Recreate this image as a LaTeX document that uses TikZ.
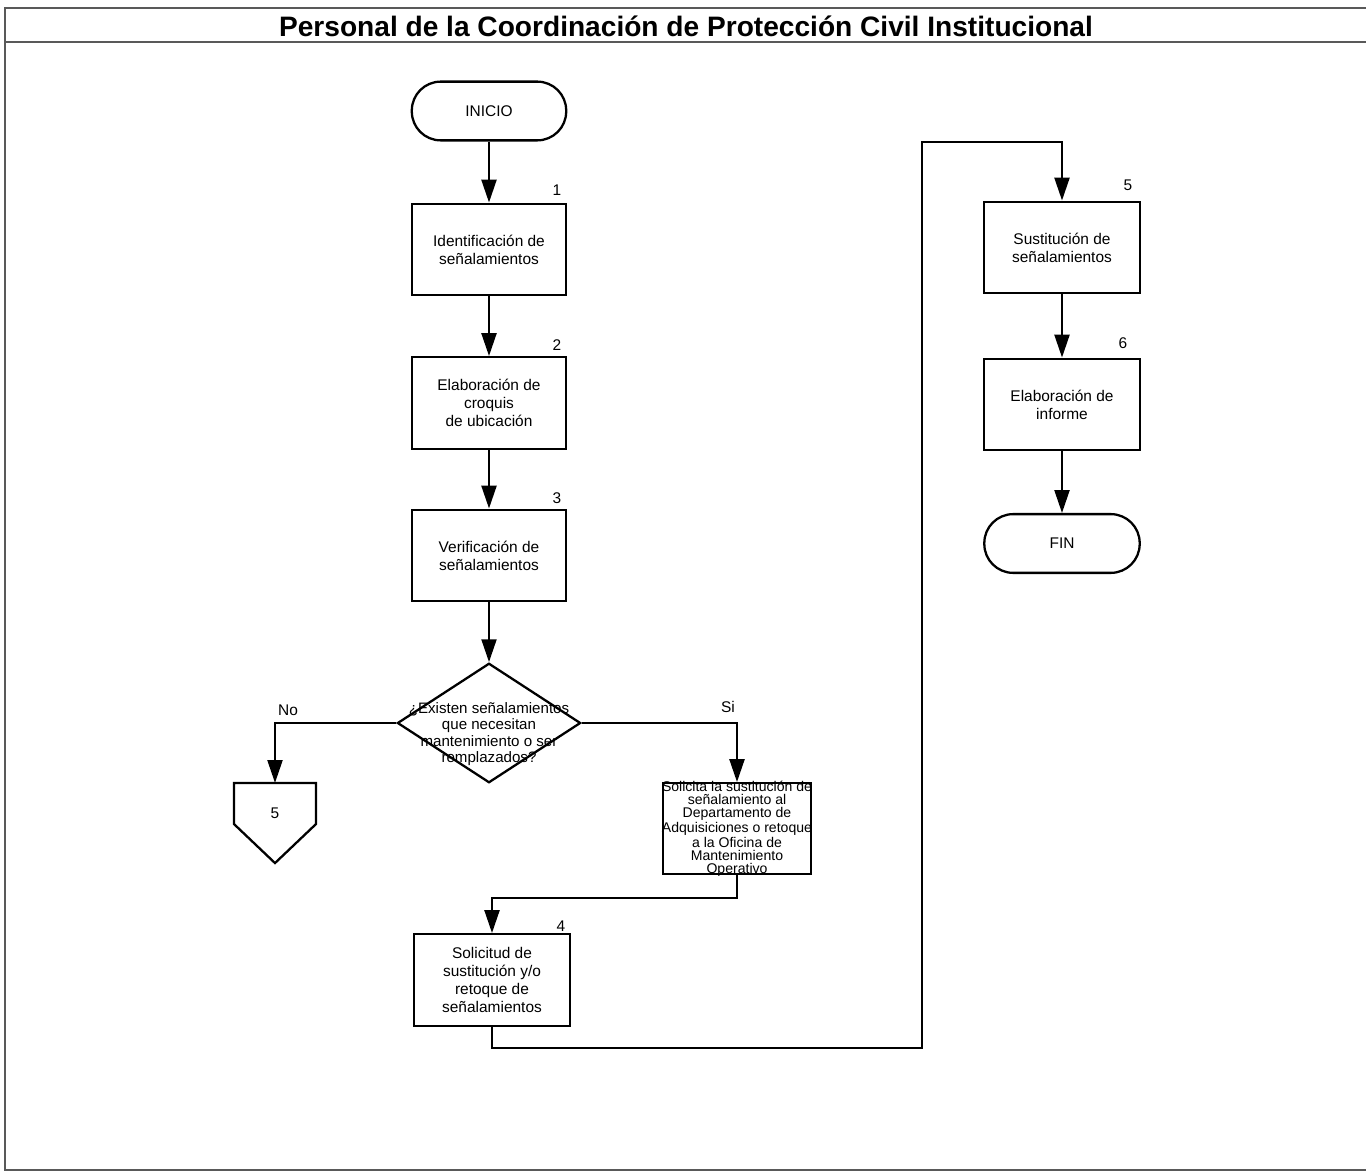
\documentclass[tikz,border=0pt]{standalone}
\usepackage{fontspec}
\setmainfont{Liberation Sans}
\usetikzlibrary{shapes.geometric,arrows.meta,calc}

% one drawing unit (1/50 cm) expressed in points, for node sizes
\def\pxu{0.5669pt}

\begin{document}
\begin{tikzpicture}[x=0.02cm,y=-0.02cm,
  line width=1.3pt,
  txt/.style={font=\fontsize{8.8}{10.2}\selectfont},
  flow/.style={-{Triangle[length=13pt,width=8.5pt]}},
  proc/.style={draw, rectangle, align=center, inner sep=0pt, txt,
               minimum width=155*\pxu, minimum height=92*\pxu},
  term/.style={draw, rectangle, inner sep=0pt, txt, rounded corners=29*\pxu,
               minimum width=155*\pxu, minimum height=59*\pxu},
  num/.style={txt, inner sep=0pt},
  frame/.style={draw=black!65, line width=0.7pt}
]
\useasboundingbox (0,0) rectangle (1366,1172);

% page frame and title band
\draw[frame] (1366,8) -- (5,8) -- (5,1170) -- (1366,1170);
\draw[frame] (5,42) -- (1366,42);
\node[font=\fontsize{16}{19}\selectfont\bfseries] (title) at (686,26)
  {Personal de la Coordinación de Protección Civil Institucional};

% left column
\node[term] (inicio) at (489,111) {INICIO};
\node[proc] (b1) at (489,249.5) {Identificación de\\señalamientos};
\node[proc] (b2) at (489,403) {Elaboración de\\croquis\\de ubicación};
\node[proc] (b3) at (489,555.5) {Verificación de\\señalamientos};
\node[num] at (557,190) {1};
\node[num] at (557,345) {2};
\node[num] at (557,498) {3};

% decision
\node[draw, diamond, inner sep=0pt, minimum width=184*\pxu, minimum height=120*\pxu]
  (dec) at (489,723) {};
\node[font=\fontsize{8.6}{9.3}\selectfont, align=center, inner sep=0pt] (dectext) at (489,734)
  {¿Existen señalamientos\\que necesitan\\mantenimiento o ser\\remplazados?};

% off-page connector
\node[inner sep=0pt, minimum width=80*\pxu, minimum height=39*\pxu] (off) at (275,803.5) {};
\draw (off.north west) -- (off.north east) -- (off.south east)
  -- ($(off.south)+(0,39)$) -- (off.south west) -- cycle;
\node[txt] (offnum) at (275,813) {5};

% request box
\node[draw, rectangle, inner sep=0pt, minimum width=148*\pxu, minimum height=91*\pxu]
  (sol) at (737,828.5) {};
\node[font=\fontsize{8}{7.4}\selectfont, align=center, inner sep=0pt] (soltext) at (737,828.5)
  {Solicita la sustitución de\\señalamiento al\\Departamento de\\Adquisiciones o retoque\\a la Oficina de\\Mantenimiento\\Operativo};

\node[proc, minimum width=156*\pxu] (b4) at (492,980) {Solicitud de\\sustitución y/o\\retoque de\\señalamientos};
\node[num] at (561,926) {4};

% right column
\node[proc, minimum width=156*\pxu] (b5) at (1062,247.5) {Sustitución de\\señalamientos};
\node[proc, minimum width=156*\pxu] (b6) at (1062,404.5) {Elaboración de\\informe};
\node[term, minimum width=156*\pxu] (fin) at (1062,543.5) {FIN};
\node[num] at (1128,185) {5};
\node[num] at (1123,343) {6};

% connectors
\draw[flow] (inicio) -- (b1);
\draw[flow] (b1) -- (b2);
\draw[flow] (b2) -- (b3);
\draw[flow] (b3) -- (dec.north);
\draw[flow] (dec.west) -| (off.north);
\draw[flow] (dec.east) -| (sol.north);
\node[txt] (nolbl) at (288,710) {No};
\node[txt] (silbl) at (728,707) {Si};
\draw[flow] (sol.south) -- ++(0,23) -| (b4.north);
\coordinate (loopA) at (922,1048);
\coordinate (loopB) at (922,142);
\draw[flow] (b4.south) |- (loopA) -- (loopB) -| (b5.north);
\draw[flow] (b5) -- (b6);
\draw[flow] (b6) -- (fin);
\end{tikzpicture}
\end{document}
